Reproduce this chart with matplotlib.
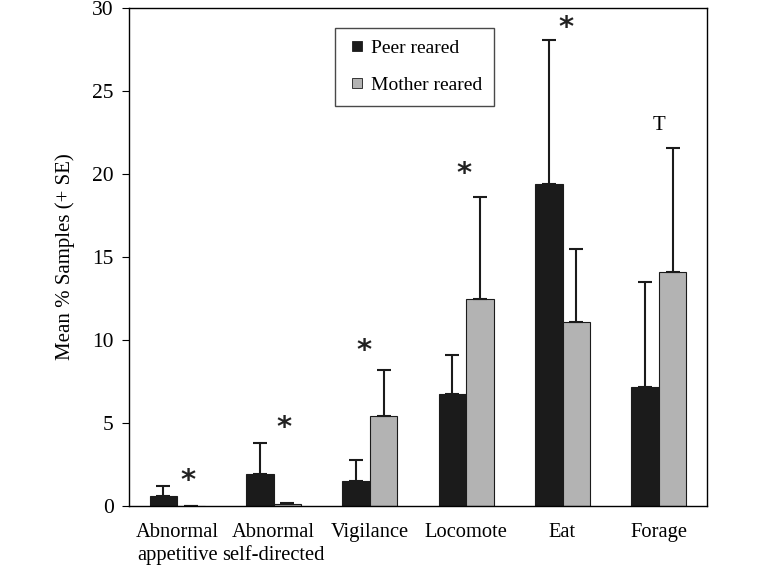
import numpy as np
import matplotlib
matplotlib.use('Agg')
import matplotlib.pyplot as plt
from matplotlib.lines import Line2D

plt.rcParams['font.family'] = ['Liberation Serif', 'DejaVu Serif']

categories = ['Abnormal\nappetitive', 'Abnormal\nself-directed', 'Vigilance', 'Locomote', 'Eat', 'Forage']
peer = [0.6, 1.93, 1.5, 6.75, 19.4, 7.15]
peer_se = [0.6, 1.87, 1.3, 2.35, 8.67, 6.35]
mother = [0.03, 0.15, 5.4, 12.5, 11.08, 14.1]
mother_se = [0.0, 0.05, 2.8, 6.1, 4.42, 7.47]
marks = ['*', '*', '*', '*', '*', 'T']
mark_x = [0.11, 0.11, -0.06, -0.02, 0.04, 0.0]
mark_y = [1.5, 4.7, 9.35, 20.0, 28.8, 22.95]

dark = '#1b1b1b'
grey = '#b3b3b3'

fig = plt.figure(figsize=(7.63, 5.67), dpi=100)
ax = fig.add_axes([129/763, 1-506/567, 578/763, 498/567])

x = np.arange(len(categories))
w = 0.285
ax.bar(x - w/2, peer, w, color=dark, edgecolor=dark, linewidth=0.8)
ax.bar(x + w/2, mother, w, color=grey, edgecolor=dark, linewidth=0.8)
ax.errorbar(x - w/2, peer, yerr=[np.zeros(6), peer_se], fmt='none', ecolor=dark,
            elinewidth=1.5, capsize=5, capthick=1.5)
ax.errorbar(x + w/2, mother, yerr=[np.zeros(6), mother_se], fmt='none', ecolor=dark,
            elinewidth=1.5, capsize=5, capthick=1.5)

for i, m in enumerate(marks):
    if m == '*':
        ax.text(x[i] + mark_x[i], mark_y[i], m, ha='center', va='center', fontsize=21,
                fontweight='bold', family='DejaVu Sans', color='#222222')
    else:
        ax.text(x[i] + mark_x[i], mark_y[i], m, ha='center', va='center', fontsize=15)

ax.set_xlim(-0.5, 5.5)
ax.set_ylim(0, 30)
ax.set_yticks(range(0, 31, 5))
ax.set_xticks(x)
ax.set_xticklabels(categories, fontsize=14.8, linespacing=1.3)
ax.tick_params(axis='x', length=0, pad=12)
ax.tick_params(axis='y', labelsize=15.5, direction='out', length=5, pad=6)
ax.set_ylabel('Mean % Samples (+ SE)', fontsize=15, labelpad=12)
for s in ax.spines.values():
    s.set_linewidth(1.0)

handles = [Line2D([], [], marker='s', linestyle='none', markersize=7, markerfacecolor=dark,
                  markeredgecolor=dark, markeredgewidth=0.6),
           Line2D([], [], marker='s', linestyle='none', markersize=7, markerfacecolor=grey,
                  markeredgecolor=dark, markeredgewidth=0.6)]
leg = ax.legend(handles, ['Peer reared', 'Mother reared'], loc='upper left',
                bbox_to_anchor=(0.356, 0.96), fontsize=14, frameon=True,
                fancybox=False, edgecolor=dark, handlelength=1.1,
                handletextpad=0.15, borderpad=0.6, labelspacing=1.0, borderaxespad=0)
leg.get_frame().set_linewidth(1.0)

fig.savefig('out.png', dpi=100)
